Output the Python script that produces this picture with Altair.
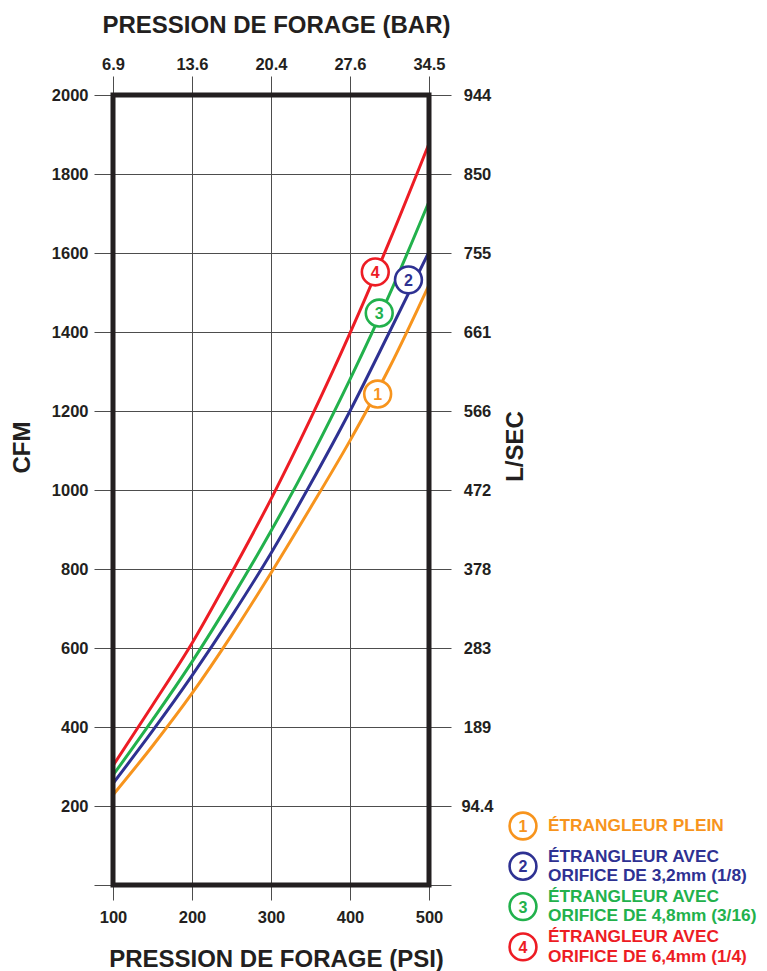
import json
import altair as alt
import pandas as pd

# ---------------- data ----------------
psi = [100, 150, 200, 250, 300, 350, 400, 450, 500]
cfm_1 = [228, 352, 485, 632, 790, 955, 1125, 1310, 1519]   # étrangleur plein
cfm_2 = [257, 390, 530, 680, 840, 1015, 1200, 1400, 1603]  # orifice 3,2 mm
cfm_3 = [278, 418, 565, 725, 896, 1080, 1280, 1495, 1730]  # orifice 4,8 mm
cfm_4 = [302, 455, 612, 790, 977, 1180, 1397, 1630, 1877]  # orifice 6,4 mm

series_ids = ["1", "2", "3", "4"]
series_colors = ["#F7941D", "#2E3192", "#22B14C", "#ED1C24"]
legend_text = [
    ["ÉTRANGLEUR PLEIN"],
    ["ÉTRANGLEUR AVEC", "ORIFICE DE 3,2mm (1/8)"],
    ["ÉTRANGLEUR AVEC", "ORIFICE DE 4,8mm (3/16)"],
    ["ÉTRANGLEUR AVEC", "ORIFICE DE 6,4mm (1/4)"],
]
marker_psi = [435, 474, 437, 432]
marker_cfm = [1243, 1532, 1448, 1552]

psi_ticks = [100, 200, 300, 400, 500]
bar_labels = ["6.9", "13.6", "20.4", "27.6", "34.5"]
cfm_ticks = [0, 200, 400, 600, 800, 1000, 1200, 1400, 1600, 1800, 2000]
lsec_labels = ["94.4", "189", "283", "378", "472", "566", "661", "755", "850", "944"]

# ---------------- tables ----------------
curves = [cfm_1, cfm_2, cfm_3, cfm_4]
rows = []
for sid, vals in zip(series_ids, curves):
    for p, v in zip(psi, vals):
        rows.append({"series": sid, "psi": p, "cfm": v})
df = pd.DataFrame(rows)

mdf = pd.DataFrame({"series": series_ids, "psi": marker_psi, "cfm": marker_cfm})

# legend layout (pixel-like units on a dedicated scale)
ROW_STEP = 40.3
LINE_H = 19.5
lg_rows, lg_lines = [], []
for i, (sid, txt) in enumerate(zip(series_ids, legend_text)):
    center = i * ROW_STEP
    lg_rows.append({"series": sid, "pos": center})
    n = len(txt)
    for j, t in enumerate(txt):
        lg_lines.append({"series": sid, "pos": center + (j - (n - 1) / 2) * LINE_H, "text": t})
ldf = pd.DataFrame(lg_rows)
ltdf = pd.DataFrame(lg_lines)

FONT = "Liberation Sans"
INK = "#231F20"
GRID = "#4D4D4D"

xscale = alt.Scale(domain=[psi_ticks[0], psi_ticks[-1]], nice=False, zero=False)
yscale = alt.Scale(domain=[cfm_ticks[0], cfm_ticks[-1]], nice=False)
cscale = alt.Scale(domain=series_ids, range=series_colors)

bar_expr = json.dumps(bar_labels) + "[round((datum.value - 100) / 100)]"
lsec_expr = "datum.value == 0 ? '' : " + json.dumps(lsec_labels) + "[round(datum.value / 200) - 1]"

lines = alt.Chart(df).mark_line(strokeWidth=3, interpolate="monotone").encode(
    x=alt.X("psi:Q", scale=xscale, axis=alt.Axis(
        orient="bottom", values=psi_ticks, grid=True, tickSize=15, labelPadding=9,
        format="d",
        title="PRESSION DE FORAGE (PSI)", titleX=163, titleY=81,
        titleBaseline="alphabetic", titleAlign="center")),
    y=alt.Y("cfm:Q", scale=yscale, axis=alt.Axis(
        orient="left", values=cfm_ticks, grid=True, tickSize=19, labelPadding=6,
        format="d",
        labelExpr="datum.value == 0 ? '' : datum.label",
        title="CFM", titleAngle=270, titleX=-91, titleY=352,
        titleBaseline="middle", titleAlign="center")),
    color=alt.Color("series:N", scale=cscale, legend=None),
)

markers = alt.Chart(mdf).mark_point(
    shape="circle", size=720, strokeWidth=2.6, fill="white", fillOpacity=1, opacity=1
).encode(
    x=alt.X("psi:Q", scale=xscale, axis=alt.Axis(
        orient="top", values=psi_ticks, grid=False, tickSize=19, labelPadding=4,
        labelExpr=bar_expr,
        title="PRESSION DE FORAGE (BAR)", titleX=163, titleY=-63,
        titleBaseline="alphabetic", titleAlign="center")),
    y=alt.Y("cfm:Q", scale=yscale, axis=alt.Axis(
        orient="right", values=cfm_ticks, grid=False, tickSize=22, labelPadding=26,
        labelAlign="center", labelExpr=lsec_expr,
        title="L/SEC", titleAngle=270, titleX=86, titleY=351,
        titleBaseline="middle", titleAlign="center")),
    stroke=alt.Stroke("series:N", scale=cscale, legend=None),
)

marker_nums = alt.Chart(mdf).mark_text(
    font=FONT, fontSize=16, fontWeight="bold", baseline="middle", align="center", dy=1
).encode(
    x=alt.X("psi:Q", scale=xscale, axis=None),
    y=alt.Y("cfm:Q", scale=yscale, axis=None),
    text="series:N",
    color=alt.Color("series:N", scale=cscale, legend=None),
)

frame = alt.Chart(pd.DataFrame({"k": [0]})).mark_rect(
    fillOpacity=0, stroke=INK, strokeWidth=5
).encode(
    x=alt.X(datum=psi_ticks[0], scale=xscale, axis=None),
    x2=alt.X2(datum=psi_ticks[-1]),
    y=alt.Y(datum=cfm_ticks[0], scale=yscale, axis=None),
    y2=alt.Y2(datum=cfm_ticks[-1]),
)

LG_TOP = 731
lg_scale = alt.Scale(domain=[0, 100], range=[LG_TOP, LG_TOP + 100], zero=False, nice=False)
lg_y = alt.Y("pos:Q", scale=lg_scale, axis=None)

legend_circles = alt.Chart(ldf).mark_point(
    shape="circle", size=720, strokeWidth=2.6, fill="white", fillOpacity=1, opacity=1
).encode(
    x=alt.value(410), y=lg_y,
    stroke=alt.Stroke("series:N", scale=cscale, legend=None),
)
legend_nums = alt.Chart(ldf).mark_text(
    font=FONT, fontSize=16, fontWeight="bold", baseline="middle", align="center", dy=1
).encode(
    x=alt.value(410), y=lg_y, text="series:N",
    color=alt.Color("series:N", scale=cscale, legend=None),
)
legend_labels = alt.Chart(ltdf).mark_text(
    font=FONT, fontSize=17.3, fontWeight="bold", baseline="middle", align="left"
).encode(
    x=alt.value(435), y=lg_y, text="text:N",
    color=alt.Color("series:N", scale=cscale, legend=None),
)

chart = alt.layer(
    lines, markers, marker_nums, frame, legend_circles, legend_nums, legend_labels
).resolve_scale(
    y="independent"
).resolve_axis(
    x="independent", y="independent"
).properties(
    width=316, height=790,
    autosize=alt.AutoSizeParams(type="none"),
    padding={"left": 105, "top": 87, "right": 330, "bottom": 88},
).configure_view(
    stroke=None
).configure_axis(
    labelFont=FONT, labelFontSize=16.5, labelFontWeight="bold", labelColor=INK,
    titleFont=FONT, titleFontSize=24, titleFontWeight="bold", titleColor=INK,
    tickColor=GRID, tickWidth=1, gridColor=GRID, gridWidth=1, gridOpacity=1,
    domain=False, labelFlush=False, labelOverlap=False,
)

chart.save("out.html", embed_options={"renderer": "svg", "actions": False})
